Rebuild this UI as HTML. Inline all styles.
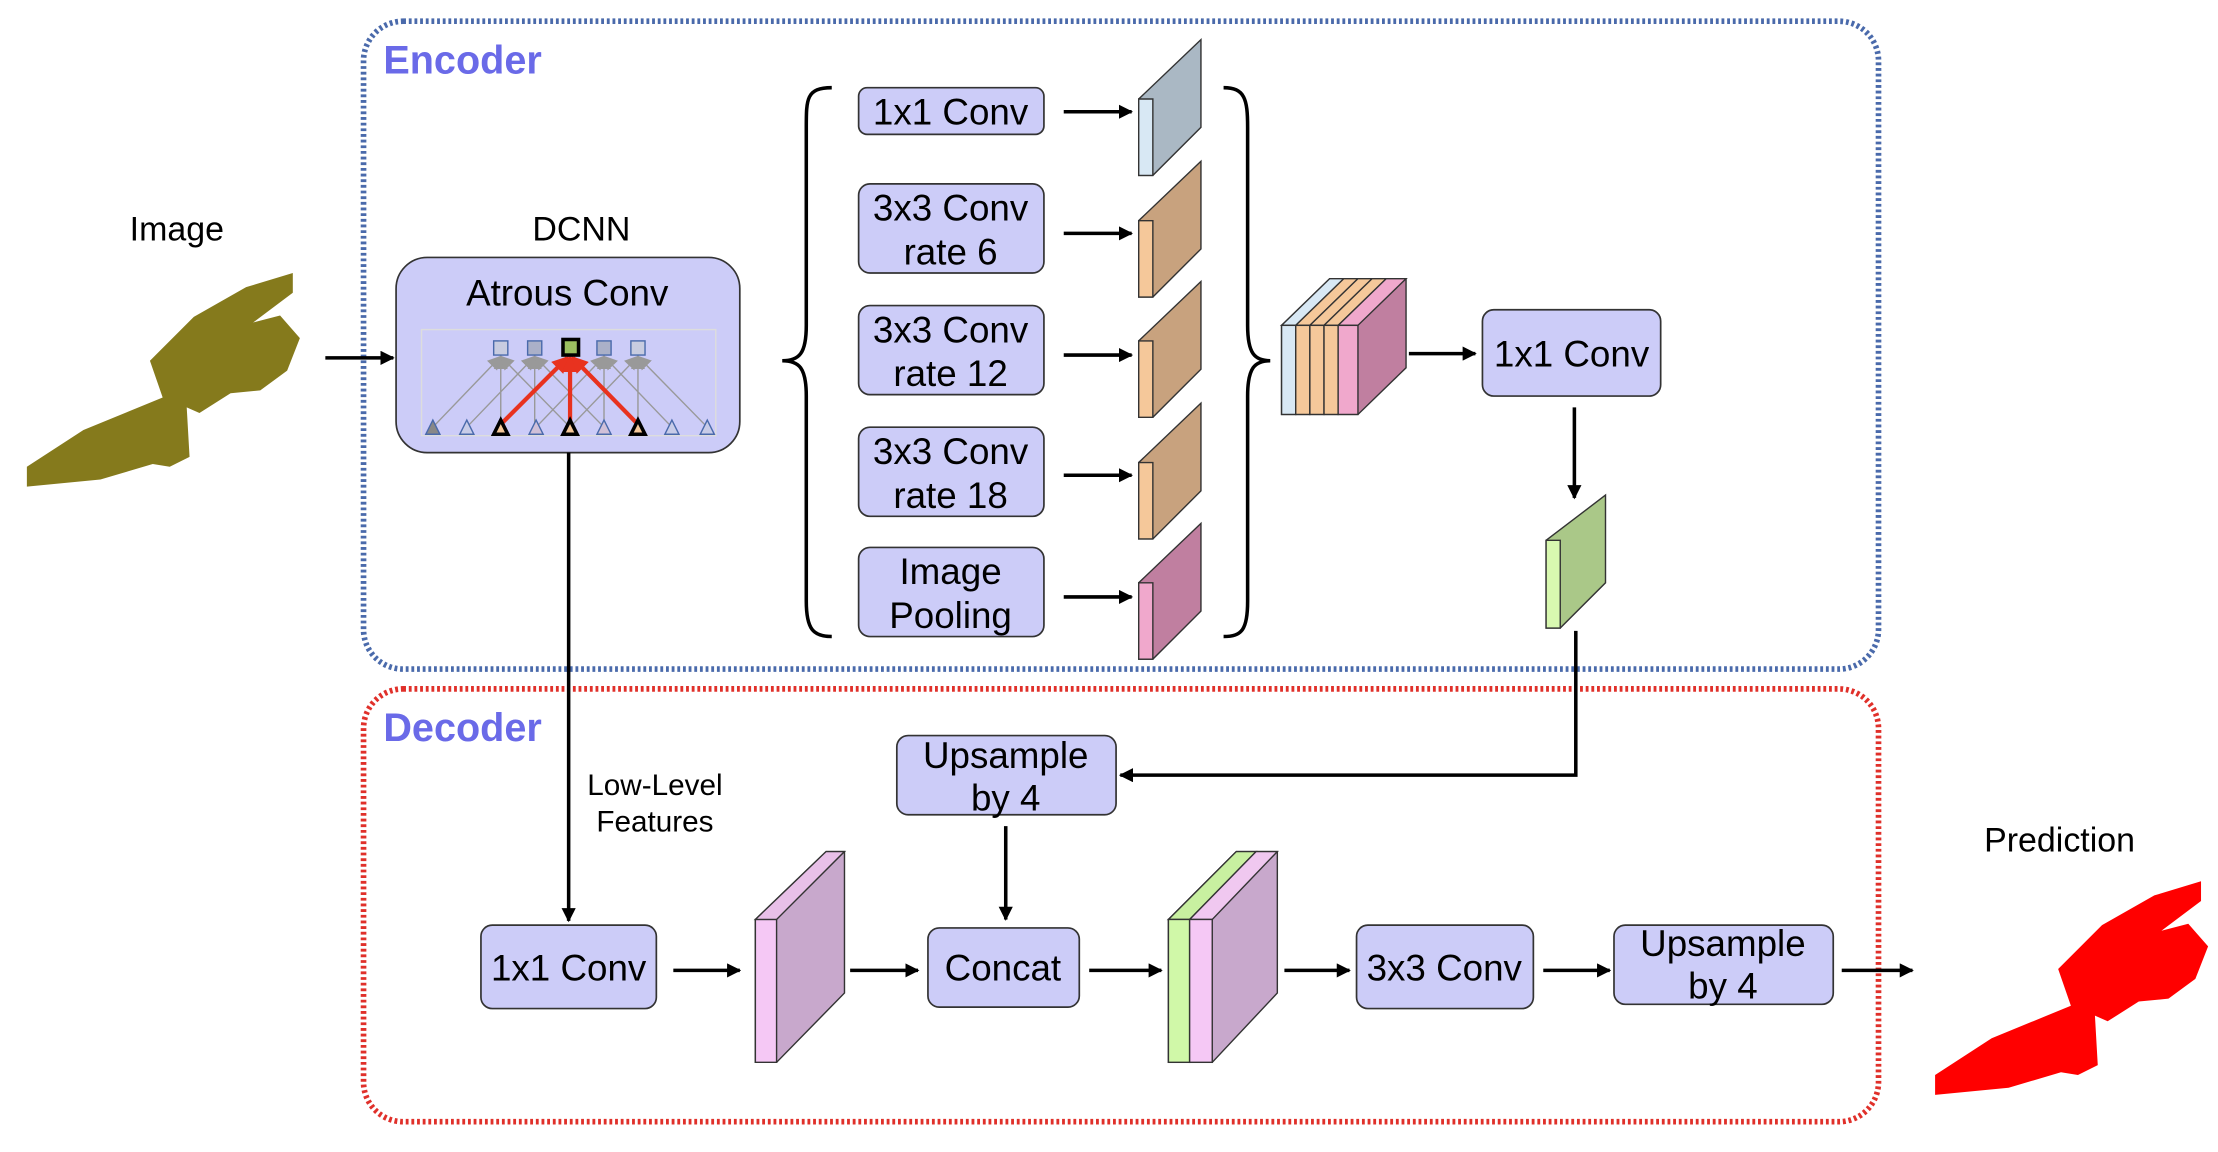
<!DOCTYPE html>
<html><head><meta charset="utf-8"><style>html,body{margin:0;padding:0;background:#fff}svg{display:block}
text{font-family:"Liberation Sans",sans-serif;}</style></head><body>
<svg width="2218" height="1152" viewBox="0 0 1568 814.4" preserveAspectRatio="none" xmlns="http://www.w3.org/2000/svg">
<defs>
<marker id="a" markerWidth="10" markerHeight="10" refX="9" refY="5" orient="auto" markerUnits="userSpaceOnUse"><path d="M0,0 L10,5 L0,10 z" fill="#000"/></marker>
<marker id="ar" markerWidth="12" markerHeight="12" refX="10" refY="6" orient="auto" markerUnits="userSpaceOnUse"><path d="M0,0 L12,6 L0,12 z" fill="#e8321f"/></marker>
<marker id="ag" markerWidth="10" markerHeight="10" refX="9" refY="5" orient="auto" markerUnits="userSpaceOnUse"><path d="M0,0 L10,5 L0,10 z" fill="#999"/></marker>
<polygon id="shape" points="207,193 207,207 179,228 198,223 212,239 203,262 184,276 163,278 141,292 132,288 134,323 120,330 108,328 71,339 19,344 19,330 59,304 115,281 106,255 137,224 174,203"/>
</defs>
<rect x="257" y="15" width="1071" height="458" rx="28" fill="none" stroke="#4a6aab" stroke-width="4" stroke-dasharray="2 2"/>
<rect x="257" y="487" width="1071" height="306" rx="28" fill="none" stroke="#e0302a" stroke-width="4" stroke-dasharray="2 2"/>
<text x="271" y="52" font-size="28" font-weight="bold" fill="#6a6ae8">Encoder</text>
<text x="271" y="524" font-size="28" font-weight="bold" fill="#6a6ae8">Decoder</text>
<use href="#shape" fill="#857a1c"/>
<use href="#shape" fill="#ff0000" transform="translate(1349,430)"/>
<text x="125" y="170" font-size="24" text-anchor="middle">Image</text>
<text x="1456" y="602" font-size="24" text-anchor="middle">Prediction</text>
<text x="411" y="170" font-size="24" text-anchor="middle">DCNN</text>
<line x1="230" y1="253" x2="278" y2="253" stroke="#000" stroke-width="2.5" marker-end="url(#a)"/>
<rect x="280" y="182" width="243" height="138" rx="22" fill="#ccccf8" stroke="#333" stroke-width="1.2"/>
<text x="401" y="216" font-size="26" text-anchor="middle">Atrous Conv</text>
<rect x="298" y="233" width="208" height="75" fill="none" stroke="#ddd" stroke-width="1"/>
<g stroke="#999" stroke-width="1" marker-end="url(#ag)">
<line x1="306" y1="302" x2="354" y2="252"/><line x1="330" y1="302" x2="378" y2="252"/>
<line x1="354" y1="302" x2="354" y2="252"/><line x1="378" y1="302" x2="378" y2="252"/>
<line x1="427" y1="302" x2="427" y2="252"/><line x1="451" y1="302" x2="451" y2="252"/>
<line x1="475" y1="302" x2="427" y2="252"/><line x1="500" y1="302" x2="451" y2="252"/>
<line x1="379" y1="302" x2="427" y2="252"/><line x1="427" y1="302" x2="378" y2="252"/>
<line x1="403" y1="302" x2="354" y2="252"/><line x1="403" y1="302" x2="451" y2="252"/>
</g>
<g stroke="#e8321f" stroke-width="3" marker-end="url(#ar)">
<line x1="354" y1="300" x2="401" y2="253"/><line x1="403" y1="300" x2="403" y2="253"/><line x1="451" y1="300" x2="405" y2="253"/>
</g>
<g stroke="#4a6aab" stroke-width="1">
<rect x="349" y="241" width="10" height="10" fill="#c8cce0"/><rect x="373" y="241" width="10" height="10" fill="#aab0c8"/>
<rect x="422" y="241" width="10" height="10" fill="#aab0c8"/><rect x="446" y="241" width="10" height="10" fill="#c8cce0"/>
</g>
<rect x="398" y="240" width="11" height="11" fill="#9bbf60" stroke="#000" stroke-width="2.5"/>
<g stroke="#4a6aab" stroke-width="1" fill="#c8cce8">
<path d="M301,307 L306,297 L311,307z" fill="#888"/><path d="M325,307 L330,297 L335,307z"/>
<path d="M374,307 L379,297 L384,307z" fill="#d0c0d8"/><path d="M422,307 L427,297 L432,307z" fill="#d0c0d8"/>
<path d="M470,307 L475,297 L480,307z"/><path d="M495,307 L500,297 L505,307z"/>
</g>
<g stroke="#000" stroke-width="2.5" fill="#f5c89a">
<path d="M349,307 L354,297 L359,307z"/><path d="M398,307 L403,297 L408,307z"/><path d="M446,307 L451,297 L456,307z"/>
</g>
<path d="M588,62 C570,62 570,70 570,90 L570,230 C570,250 565,255 553,255 C565,255 570,260 570,280 L570,425 C570,445 575,450 588,450" fill="none" stroke="#000" stroke-width="2.5"/>
<path d="M865,62 C880,62 882,70 882,90 L882,230 C882,250 887,255 898,255 C887,255 882,260 882,280 L882,425 C882,445 878,450 865,450" fill="none" stroke="#000" stroke-width="2.5"/>
<g fill="#ccccf8" stroke="#333" stroke-width="1.2">
<rect x="607" y="62" width="131" height="33" rx="6"/>
<rect x="607" y="130" width="131" height="63" rx="8"/>
<rect x="607" y="216" width="131" height="63" rx="8"/>
<rect x="607" y="302" width="131" height="63" rx="8"/>
<rect x="607" y="387" width="131" height="63" rx="8"/>
</g>
<g font-size="26" text-anchor="middle">
<text x="672" y="88">1x1 Conv</text>
<text x="672" y="156">3x3 Conv</text><text x="672" y="187">rate 6</text>
<text x="672" y="242">3x3 Conv</text><text x="672" y="273">rate 12</text>
<text x="672" y="328">3x3 Conv</text><text x="672" y="359">rate 18</text>
<text x="672" y="413">Image</text><text x="672" y="444">Pooling</text>
</g>
<g stroke="#000" stroke-width="2.5" marker-end="url(#a)">
<line x1="752" y1="79" x2="800" y2="79"/><line x1="752" y1="165" x2="800" y2="165"/>
<line x1="752" y1="251" x2="800" y2="251"/><line x1="752" y1="336" x2="800" y2="336"/>
<line x1="752" y1="422" x2="800" y2="422"/>
</g>
<g stroke="#333" stroke-width="1">
<path d="M805,70 L849,28 L849,90 L815,124 L805,124z" fill="#aab8c4"/><path d="M805,70 L815,70 L815,124 L805,124z" fill="#d8e8f4"/>
<path d="M805,156 L849,114 L849,176 L815,210 L805,210z" fill="#c8a27e"/><path d="M805,156 L815,156 L815,210 L805,210z" fill="#f5c89a"/>
<path d="M805,241 L849,199 L849,261 L815,295 L805,295z" fill="#c8a27e"/><path d="M805,241 L815,241 L815,295 L805,295z" fill="#f5c89a"/>
<path d="M805,327 L849,285 L849,347 L815,381 L805,381z" fill="#c8a27e"/><path d="M805,327 L815,327 L815,381 L805,381z" fill="#f5c89a"/>
<path d="M805,412 L849,370 L849,432 L815,466 L805,466z" fill="#c07fa0"/><path d="M805,412 L815,412 L815,466 L805,466z" fill="#f0a8cc"/>
</g>
<g stroke="#333" stroke-width="1">
<path d="M906,230 L940,197 L994,197 L994,260 L960,293 L906,293z" fill="#c07fa0"/>
<path d="M906,230 L940,197 L950,197 L916,230z" fill="#d8e8f4"/>
<path d="M916,230 L950,197 L960,197 L926,230z" fill="#f5c89a"/>
<path d="M926,230 L960,197 L970,197 L936,230z" fill="#f5c89a"/>
<path d="M936,230 L970,197 L980,197 L946,230z" fill="#f5c89a"/>
<path d="M946,230 L980,197 L994,197 L960,230z" fill="#f0a8cc"/>
<rect x="906" y="230" width="10" height="63" fill="#d8e8f4"/><rect x="916" y="230" width="10" height="63" fill="#f5c89a"/>
<rect x="926" y="230" width="10" height="63" fill="#f5c89a"/><rect x="936" y="230" width="10" height="63" fill="#f5c89a"/>
<rect x="946" y="230" width="14" height="63" fill="#f0a8cc"/>
</g>
<line x1="996" y1="250" x2="1043" y2="250" stroke="#000" stroke-width="2.5" marker-end="url(#a)"/>
<rect x="1048" y="219" width="126" height="61" rx="8" fill="#ccccf8" stroke="#333" stroke-width="1.2"/>
<text x="1111" y="259" font-size="26" text-anchor="middle">1x1 Conv</text>
<line x1="1113" y1="288" x2="1113" y2="352" stroke="#000" stroke-width="2.5" marker-end="url(#a)"/>
<g stroke="#333" stroke-width="1">
<path d="M1093,382 L1135,350 L1135,412 L1103,444 L1093,444z" fill="#aac888"/><path d="M1093,382 L1103,382 L1103,444 L1093,444z" fill="#d8f8b0"/>
</g>
<polyline points="1114,446 1114,548 792,548" fill="none" stroke="#000" stroke-width="2.5" marker-end="url(#a)"/>
<line x1="402" y1="320" x2="402" y2="651" stroke="#000" stroke-width="2.5" marker-end="url(#a)"/>
<text x="463" y="562" font-size="21" text-anchor="middle">Low-Level</text>
<text x="463" y="588" font-size="21" text-anchor="middle">Features</text>
<rect x="634" y="520" width="155" height="56" rx="8" fill="#ccccf8" stroke="#333" stroke-width="1.2"/>
<text x="711" y="543" font-size="26" text-anchor="middle">Upsample</text><text x="711" y="573" font-size="26" text-anchor="middle">by 4</text>
<line x1="711" y1="584" x2="711" y2="650" stroke="#000" stroke-width="2.5" marker-end="url(#a)"/>
<g fill="#ccccf8" stroke="#333" stroke-width="1.2">
<rect x="340" y="654" width="124" height="59" rx="8"/>
<rect x="656" y="656" width="107" height="56" rx="8"/>
<rect x="959" y="654" width="125" height="59" rx="8"/>
<rect x="1141" y="654" width="155" height="56" rx="8"/>
</g>
<g font-size="26" text-anchor="middle">
<text x="402" y="693">1x1 Conv</text><text x="709" y="693">Concat</text><text x="1021" y="693">3x3 Conv</text>
<text x="1218" y="676">Upsample</text><text x="1218" y="706">by 4</text>
</g>
<g stroke="#333" stroke-width="1">
<path d="M534,650 L584,602 L597,602 L597,702 L549,751 L534,751z" fill="#c8a8cc"/><path d="M534,650 L549,650 L549,751 L534,751z" fill="#f5c8f5"/><path d="M534,650 L584,602 L597,602 L549,650z" fill="#e8c0e8"/>
<path d="M826,650 L874,602 L903,602 L903,702 L857,751 L826,751z" fill="#c8a8cc"/>
<path d="M826,650 L874,602 L888,602 L841,650z" fill="#c8f0a0"/><path d="M841,650 L888,602 L903,602 L857,650z" fill="#f0c8f0"/>
<rect x="826" y="650" width="15" height="101" fill="#d0f8a8"/><rect x="841" y="650" width="16" height="101" fill="#f5c8f5"/>
</g>
<g stroke="#000" stroke-width="2.5" marker-end="url(#a)">
<line x1="476" y1="686" x2="523" y2="686"/><line x1="601" y1="686" x2="649" y2="686"/>
<line x1="770" y1="686" x2="821" y2="686"/><line x1="908" y1="686" x2="954" y2="686"/>
<line x1="1091" y1="686" x2="1138" y2="686"/><line x1="1302" y1="686" x2="1352" y2="686"/>
</g>
</svg>
</body></html>
